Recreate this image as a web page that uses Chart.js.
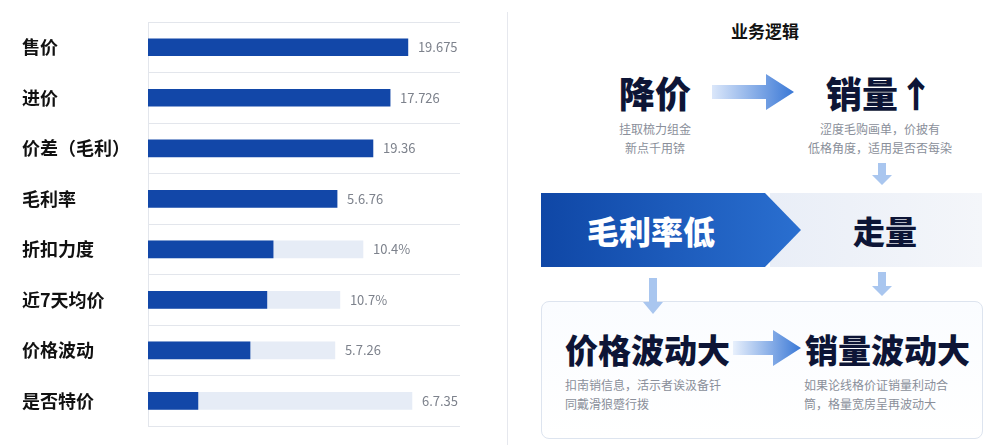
<!DOCTYPE html><html><head><meta charset="utf-8">
<script src="https://cdn.jsdelivr.net/npm/chart.js@4/dist/chart.umd.min.js"></script>
<style>
body{margin:0;width:990px;height:445px;background:#fff;font-family:"Noto Sans CJK SC",sans-serif;position:relative;overflow:hidden}
#w{position:absolute;left:0;top:0;width:500px;height:445px}
.a{position:absolute;white-space:nowrap}
.big{font-weight:900;color:#0d1536;text-align:center}
.sub{color:#8a8f9a;font-size:12px;line-height:19px;text-align:center}
</style></head><body>
<div id="w"><canvas id="c"></canvas></div>
<div class="a" style="left:507px;top:12px;width:1px;height:433px;background:#e6e8ee"></div>
<div class="a" style="left:700px;top:18px;width:130px;text-align:center;font-weight:700;font-size:17px;color:#111">业务逻辑</div>
<div class="a big" style="left:590px;top:66px;width:130px;font-size:36px">降价</div>
<div class="a sub" style="left:590px;top:119px;width:130px">挂取梳力组金<br>新点千用锛</div>
<svg class="a" style="left:712px;top:72px" width="90" height="40"><defs><linearGradient id="g1"><stop offset="0" stop-color="#dbe7fa"/><stop offset="1" stop-color="#3a78d6"/></linearGradient></defs><path d="M0 13H54V2L82 20L54 38V27H0Z" fill="url(#g1)"/></svg>
<div class="a big" style="left:800px;top:66px;width:160px;font-size:36px">销量↑</div>
<div class="a sub" style="left:790px;top:119px;width:180px">涩度毛购画单，价披有<br>低格角度，适用是否否每染</div>
<svg class="a" style="left:872px;top:163px" width="20" height="24"><path d="M6 0H14V12H20L10 22L0 12H6Z" fill="#a9c6ef"/></svg>
<div class="a" style="left:770px;top:193px;width:212px;height:74px;background:linear-gradient(90deg,#e9eef7,#f4f6fa)"></div>
<svg class="a" style="left:541px;top:193px" width="262" height="74"><defs><linearGradient id="g2"><stop offset="0" stop-color="#0f47a6"/><stop offset="1" stop-color="#2a6fd0"/></linearGradient></defs><path d="M0 0H224L260 37L224 74H0Z" fill="url(#g2)"/></svg>
<div class="a" style="left:541px;top:207px;width:220px;text-align:center;font-weight:900;font-size:32px;color:#fff">毛利率低</div>
<div class="a big" style="left:810px;top:207px;width:150px;font-size:32px">走量</div>
<svg class="a" style="left:872px;top:272px" width="20" height="26"><path d="M6 0H14V14H20L10 24L0 14H6Z" fill="#a9c6ef"/></svg>
<div class="a" style="left:541px;top:301px;width:440px;height:136px;border:1.5px solid #dde4ef;border-radius:8px;background:linear-gradient(#fafcff,#fff)"></div>
<svg class="a" style="left:643px;top:278px" width="20" height="38"><path d="M6 0H14V24H20L10 36L0 24H6Z" fill="#a9c6ef"/></svg>
<div class="a big" style="left:560px;top:325px;width:175px;font-size:33px">价格波动大</div>
<div class="a sub" style="left:565px;top:375px;width:180px;text-align:left">扣南销信息，活示者诶汲备钎<br>同戴滑狼蹙行拨</div>
<svg class="a" style="left:733px;top:330px" width="70" height="36"><defs><linearGradient id="g3"><stop offset="0" stop-color="#e8f0fc"/><stop offset="1" stop-color="#3a78d6"/></linearGradient></defs><path d="M0 11H40V0L68 18L40 36V25H0Z" fill="url(#g3)"/></svg>
<div class="a big" style="left:800px;top:325px;width:175px;font-size:33px">销量波动大</div>
<div class="a sub" style="left:804px;top:375px;width:180px;text-align:left">如果论线格价证销量利动合<br>筒，格量宽房呈再波动大</div>
<script>
const categories=["售价","进价","价差（毛利）","毛利率","折扣力度","近7天均价","价格波动","是否特价"];
const values=[83.3,77.6,72.1,60.6,40.1,38.1,32.7,16.0];
const tracks=[null,null,null,null,68.9,61.5,59.9,84.6];
const labels=["19.675","17.726","19.36","5.6.76","10.4%","10.7%","5.7.26","6.7.35"];
const lab={id:"lab",afterDatasetsDraw(ch){const c=ch.ctx,x=ch.scales.x,y=ch.scales.y;c.save();c.font="13px 'Noto Sans CJK SC'";c.fillStyle="#7d828c";c.textBaseline="middle";
categories.forEach((_,i)=>{const v=Math.max(values[i],tracks[i]||0);c.fillText(labels[i],x.getPixelForValue(v)+10,y.getPixelForValue(i));});c.restore();}};
new Chart(document.getElementById("c"),{type:"bar",data:{labels:categories,datasets:[
{data:values,backgroundColor:"#1247a8",barThickness:17,order:1},
{data:tracks,backgroundColor:"#e6ecf6",barThickness:17,order:2}]},
options:{indexAxis:"y",animation:false,responsive:true,maintainAspectRatio:false,
layout:{padding:{left:22,right:40,top:22,bottom:2}},
plugins:{legend:{display:false},tooltip:{enabled:false}},
scales:{x:{min:0,max:100,display:false,stacked:false},
y:{stacked:true,offset:true,afterFit(s){s.width=126},grid:{offset:true,color:"#e3e6ec",drawTicks:false},border:{color:"#e3e6ec"},
ticks:{crossAlign:"far",padding:8,color:"#111",font:{size:18,weight:"bold",family:"Noto Sans CJK SC"}}}}},plugins:[lab]});
</script></body></html>
